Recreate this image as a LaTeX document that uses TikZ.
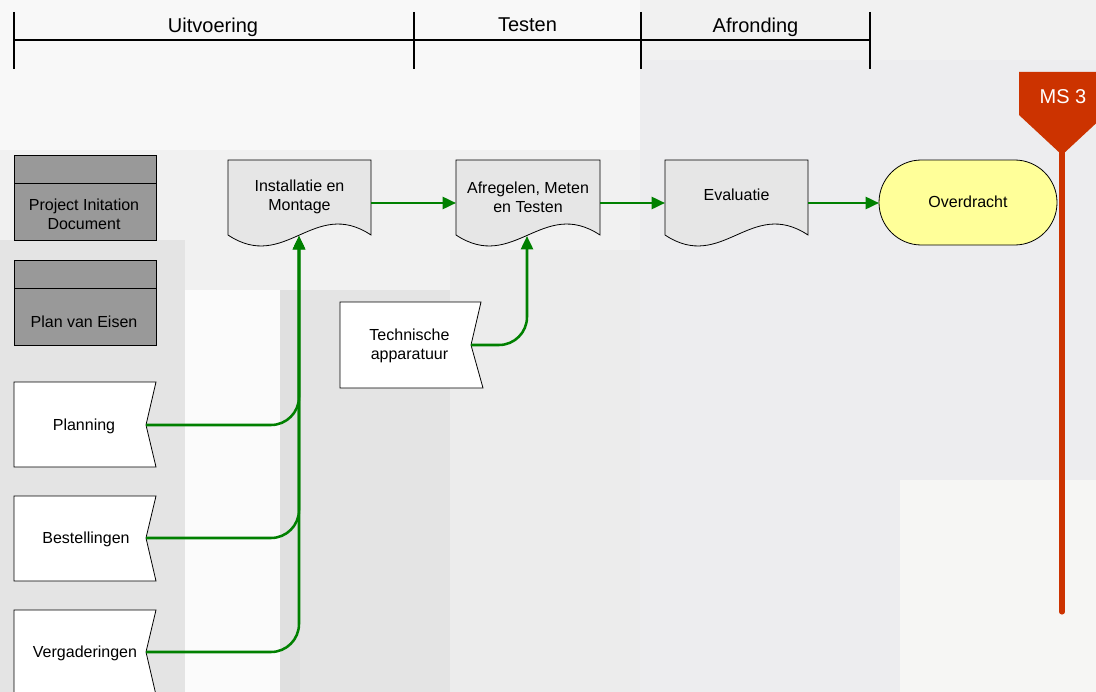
\documentclass[tikz,border=0pt]{standalone}
\usepackage{fontspec}
\setmainfont{Liberation Sans}
\usetikzlibrary{arrows.meta}
\definecolor{flowgreen}{HTML}{008000}
\definecolor{docgrey}{HTML}{E6E6E6}
\definecolor{boxgrey}{HTML}{999999}
\definecolor{msred}{HTML}{CC3300}
\definecolor{termyellow}{HTML}{FFFF99}
\definecolor{bgA}{HTML}{F1F1F1}
\definecolor{bgB}{HTML}{F8F8F8}
\definecolor{bgC}{HTML}{E4E4E4}
\definecolor{bgD}{HTML}{FBFBFB}
\definecolor{bgE}{HTML}{E0E0E0}
\definecolor{bgF}{HTML}{ECECEC}
\definecolor{bgG}{HTML}{EDEDEF}
\definecolor{bgH}{HTML}{F6F6F4}
\newcommand{\mydocshape}[2]{%
  \pgfmathsetmacro{\mydocw}{#2-#1}%
  \draw[docbox] (#1,160) -- (#2,160) -- (#2,235)
    .. controls ({#1+0.6*\mydocw},197) and ({#1+0.4*\mydocw},273) .. (#1,235) -- cycle;}
\begin{document}
\begin{tikzpicture}[x=0.75pt,y=-0.75pt,
  phase/.style={line width=1.5pt},
  head/.style={font=\fontsize{15}{18}\selectfont, inner sep=0pt},
  lbl/.style={font=\fontsize{12}{14.3}\selectfont, align=center, inner sep=0pt},
  outline/.style={draw=black, line width=0.6pt},
  docbox/.style={outline, fill=docgrey},
  greybox/.style={outline, fill=boxgrey},
  inbox/.style={outline, fill=white},
  flow/.style={draw=flowgreen, line width=1.9pt, -{Triangle[length=10pt,width=9pt]}},
  feed/.style={flow, rounded corners=21pt},
]
\useasboundingbox (0,0) rectangle (1096,692);
% background (faint photo tones)
\fill[bgA] (0,0) rectangle (1096,692);
\fill[bgB] (0,0) rectangle (640,150);
\fill[bgC] (0,240) rectangle (185,692);
\fill[bgD] (185,290) rectangle (280,692);
\fill[bgE] (280,290) rectangle (300,692);
\fill[bgC] (300,290) rectangle (450,692);
\fill[bgF] (450,250) rectangle (640,692);
\fill[bgG] (640,60) rectangle (1096,692);
\fill[bgH] (900,480) rectangle (1096,692);

% timeline
\coordinate (t0) at (14,40);
\coordinate (t3) at (870,40);
\draw[phase] (t0) -- (t3);
\foreach \x in {14,414,641,870} \draw[phase] (\x,12) -- (\x,69);
\node[head] (h1) at (213,27.1) {Uitvoering};
\node[head] (h2) at (527.5,24.7) {Testen};
\node[head] (h3) at (755.5,27.1) {Afronding};

% grey documents
\draw[greybox] (14,155) rectangle (156,240);
\draw[outline] (14,183) -- (156,183);
\node[lbl] (pid) at (84,214.7) {Project Initation\\Document};
\draw[greybox] (14,260) rectangle (156,345);
\draw[outline] (14,288) -- (156,288);
\node[lbl] (pve) at (84,321.6) {Plan van Eisen};

% document shapes
\mydocshape{228}{371}
\mydocshape{456}{600}
\mydocshape{665}{808}
\node[lbl] (inst) at (299.5,197) {Installatie en\\Montage};
\node[lbl] (afr) at (528,197) {Afregelen, Meten\\en Testen};
\node[lbl] (eval) at (736.5,195) {Evaluatie};

\coordinate (inst-e) at (371,203);
\coordinate (inst-s) at (299,236);
\coordinate (afr-w) at (456,203);
\coordinate (afr-e) at (600,203);
\coordinate (afr-s) at (527,236);
\coordinate (eval-w) at (665,203);
\coordinate (eval-e) at (808,203);

% terminator
\draw[outline, fill=termyellow, rounded corners=31.8pt] (879,160) rectangle (1057,245);
\node[lbl] (over) at (968,201.5) {Overdracht};
\coordinate (over-w) at (879,203);

% milestone
\draw[msred, line width=3.8pt, line cap=round] (1062,150) -- (1062,612);
\fill[msred] (1019,72) -- (1105,72) -- (1105,115) -- (1062,155) -- (1019,115) -- cycle;
\node[head, text=white] (ms) at (1063,96.7) {MS 3};

% input shapes
\draw[inbox] (340,302) -- (481,302) -- (471,345) -- (483,388) -- (340,388) -- cycle;
\node[lbl] (tech) at (409.5,345.4) {Technische\\apparatuur};
\coordinate (tech-e) at (471,345);

\draw[inbox] (14,382) -- (156,382) -- (146,425) -- (156,467) -- (14,467) -- cycle;
\node[lbl] (plan) at (84,426) {Planning};
\coordinate (plan-e) at (146,425);

\draw[inbox] (14,496) -- (156,496) -- (146,538) -- (156,581) -- (14,581) -- cycle;
\node[lbl] (best) at (86,539) {Bestellingen};
\coordinate (best-e) at (146,538);

\draw[inbox] (14,610) -- (156,610) -- (146,652) -- (156,695) -- (14,695) -- cycle;
\node[lbl] (verg) at (85,653) {Vergaderingen};
\coordinate (verg-e) at (146,652);

% connectors
\draw[flow] (inst-e) -- (afr-w);
\draw[flow] (afr-e) -- (eval-w);
\draw[flow] (eval-e) -- (over-w);
\draw[feed] (plan-e) -| (inst-s);
\draw[feed] (best-e) -| (inst-s);
\draw[feed] (verg-e) -| (inst-s);
\draw[feed] (tech-e) -| (afr-s);
\end{tikzpicture}
\end{document}
